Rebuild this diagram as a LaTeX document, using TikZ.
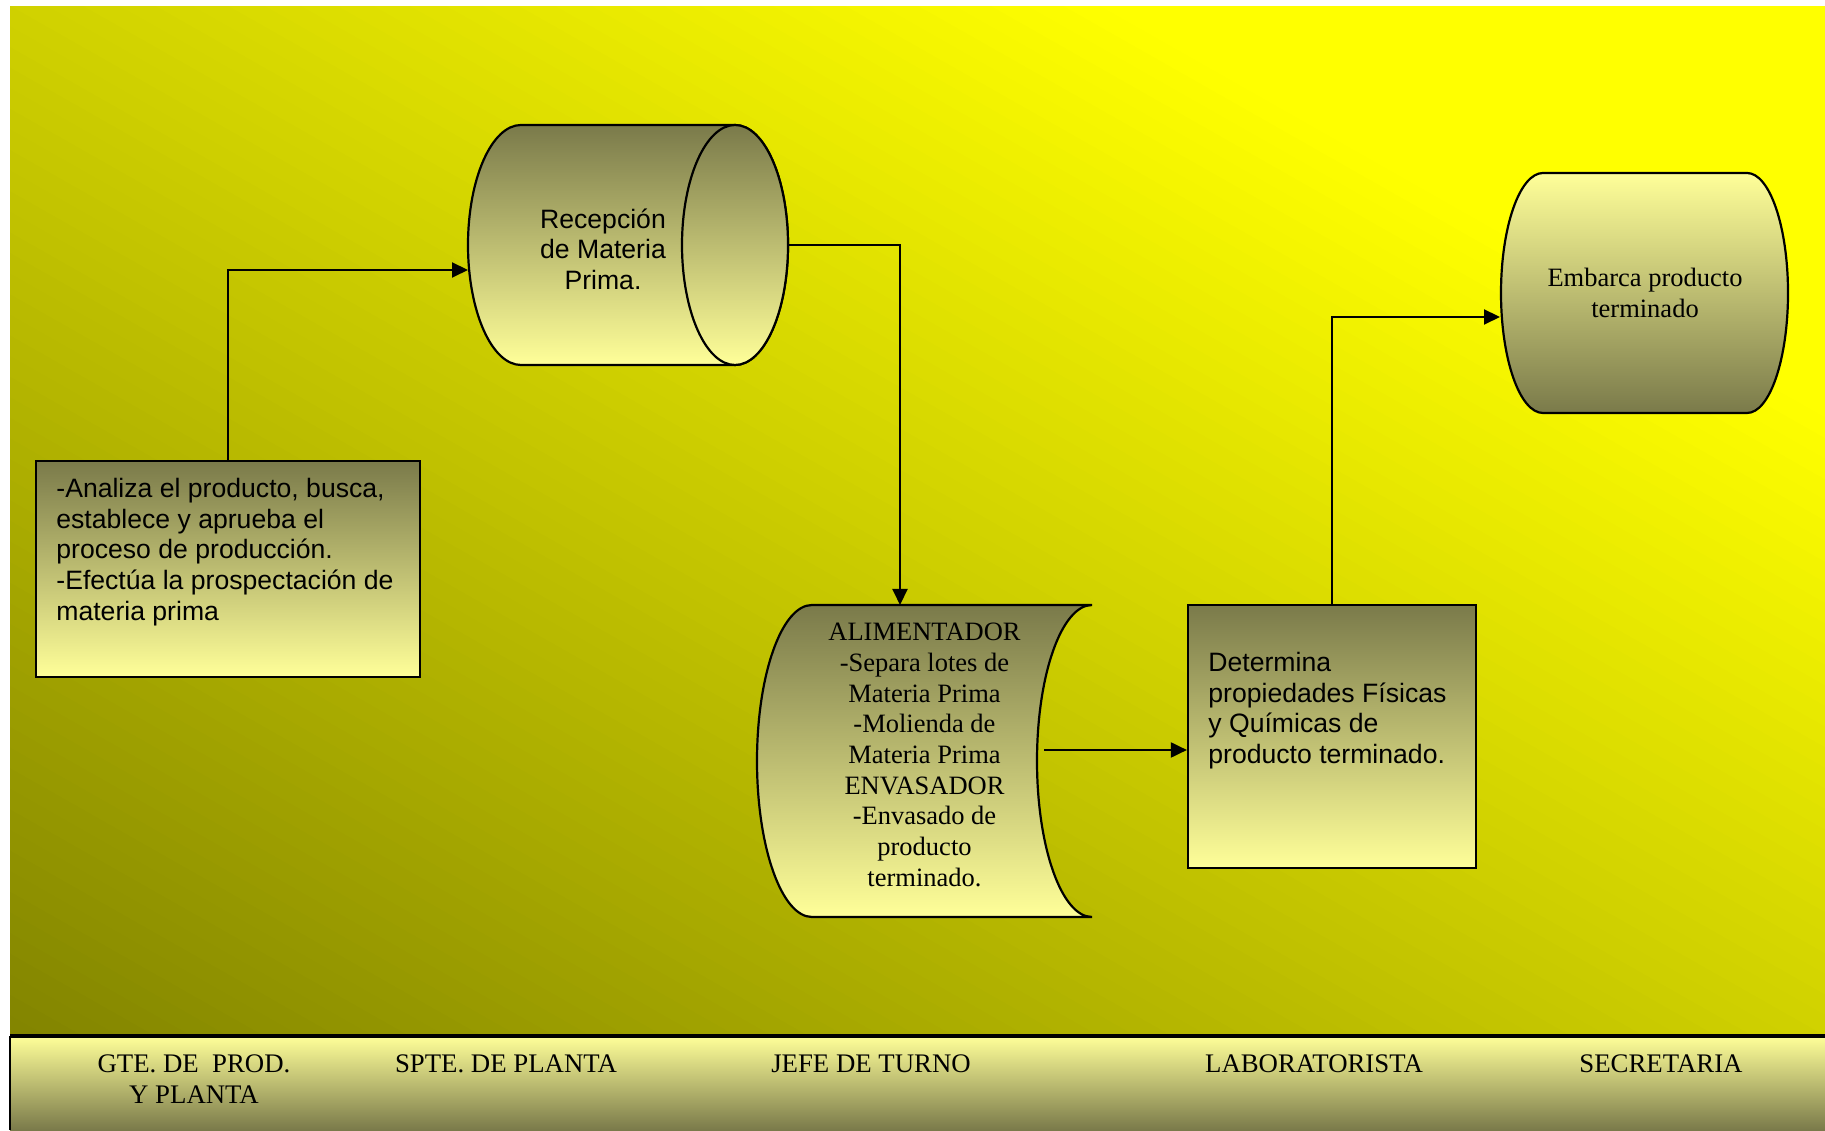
\documentclass[tikz,border=0pt]{standalone}
\usepackage{fontspec}
\setmainfont{Liberation Serif}
\setsansfont{Liberation Sans}
\usetikzlibrary{arrows.meta,calc}
\definecolor{shapedark}{RGB}{122,122,74}
\definecolor{shapelight}{RGB}{255,255,153}
\definecolor{bgbright}{RGB}{255,255,0}
\definecolor{bgdark}{RGB}{130,132,0}
\frenchspacing
\begin{document}
\begin{tikzpicture}[x=0.5pt,y=0.5pt,
  every node/.style={inner sep=0pt},
  darkup/.style={top color=shapedark,bottom color=shapelight,draw=black,line width=1.1pt},
  darkdown/.style={top color=shapelight,bottom color=shapedark,draw=black,line width=1.1pt},
  sans/.style={font=\sffamily\fontsize{13.3}{15.3}\selectfont},
  serif/.style={font=\rmfamily\fontsize{13.25}{15.35}\selectfont},
  lanefont/.style={font=\rmfamily\fontsize{13.4}{15.5}\selectfont},
  flow/.style={-{Triangle[length=8pt,width=7.5pt]},line width=1pt}
]
\useasboundingbox (0,0) rectangle (1825,1130);

% yellow backdrop: diagonal bands from olive (lower left) to yellow (upper right)
\begin{scope}
  \clip (0,90) rectangle (1825,1130);
  \fill[bgbright] (0,90) rectangle (1825,1130);
  \foreach \i in {0,...,81} {
    \pgfmathsetmacro\ua{\i*0.02}
    \pgfmathsetmacro\ub{\ua+0.026}
    \pgfmathsetmacro\pc{min(100,62.4*(\ua+0.01))}
    \fill[bgbright!\pc!bgdark] (10+\ua*1815,94) -- (10+\ub*1815,94)
      -- (10,94+\ub*1030) -- (10,94+\ua*1030) -- cycle;
  }
\end{scope}
% white page margins
\fill[white] (0,1124) rectangle (1825,1130);
\fill[white] (0,0) rectangle (10,1130);

% lane title band
\shade[top color=shapelight,bottom color=shapedark] (10,0) rectangle (1825,94);
\draw[line width=0.6pt] (10,0) -- (10,94);
\draw[line width=1.6pt] (10,94) -- (1825,94);

% horizontal cylinder
\shade[darkup] (521,1005) -- (735,1005)
  arc[start angle=90,end angle=-90,x radius=53,y radius=120] -- (521,765)
  arc[start angle=270,end angle=90,x radius=53,y radius=120] -- cycle;
\shade[darkup] (735,885) ellipse [x radius=53,y radius=120];

% stored data shape
\shade[darkup] (812,525) -- (1092,525)
  arc[start angle=90,end angle=270,x radius=55,y radius=156] -- (812,213)
  arc[start angle=270,end angle=90,x radius=55,y radius=156] -- cycle;

% rounded-side terminal
\shade[darkdown] (1543,957) -- (1747,957)
  arc[start angle=90,end angle=-90,x radius=41,y radius=120] -- (1543,717)
  arc[start angle=270,end angle=90,x radius=42,y radius=120] -- cycle;

% boxes
\node[darkup,minimum width=192pt,minimum height=108pt] (gte) at (228,561) {};
\node[darkup,minimum width=144pt,minimum height=131.5pt] (det) at (1332,393.5) {};

% anchors for the drawn shapes
\node[minimum width=160pt,minimum height=120pt] (recep) at (628,885) {};
\node[minimum width=167.5pt,minimum height=156pt] (alim) at (924.5,369) {};
\node[minimum width=143.5pt,minimum height=120pt] (emb) at (1644.5,837) {};

% texts
\node[sans,align=center] (receptxt) at (603,881) {Recepción\\de Materia\\Prima.};
\node[serif,align=center] (alimtxt) at (924.5,375) {ALIMENTADOR\\-Separa lotes de\\Materia Prima\\-Molienda de\\Materia Prima\\ENVASADOR\\-Envasado de\\producto\\terminado.};
\node[serif,align=center] (embtxt) at (1645,837) {Embarca producto\\terminado};
\node[sans,align=left,anchor=north west] (gtetxt) at (56,652) {-Analiza el producto, busca,\\establece y aprueba el\\proceso de producción.\\-Efectúa la prospectación de\\materia prima};
\node[sans,align=left,anchor=north west] (dettxt) at (1208,478) {Determina\\propiedades Físicas\\y Químicas de\\producto terminado.};

% lane titles
\node[lanefont,align=center,anchor=north] (lane1) at (194,76) {GTE. DE\ \ PROD.\\Y PLANTA};
\node[lanefont,anchor=north] (lane2) at (506,76) {SPTE. DE PLANTA};
\node[lanefont,anchor=north] (lane3) at (871,76) {JEFE DE TURNO};
\node[lanefont,anchor=north] (lane4) at (1314,76) {LABORATORISTA};
\node[lanefont,anchor=north] (lane5) at (1661,76) {SECRETARIA};

% connectors
\coordinate (recin) at (468,860);
\coordinate (alimin) at (900,525);
\coordinate (alimout) at (1044,380);
\coordinate (embin) at (1500,813);
\draw[flow] (gte.north) |- (recin);
\draw[flow] (recep.east) -| (alimin);
\draw[flow] (alimout) -- (alimout -| det.west);
\draw[flow] (det.north) |- (embin);
\end{tikzpicture}
\end{document}
